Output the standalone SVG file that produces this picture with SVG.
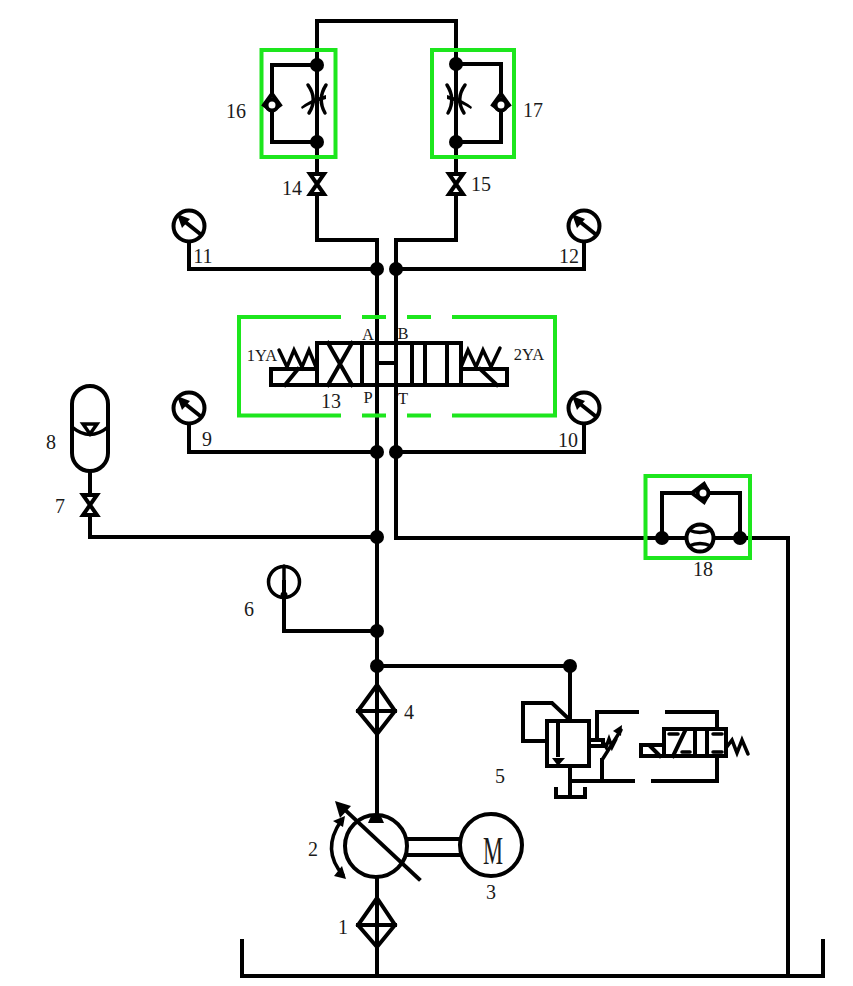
<svg xmlns="http://www.w3.org/2000/svg" width="853" height="986" viewBox="0 0 853 986">
<style>
.l{fill:none;stroke:#000;stroke-width:4;stroke-linejoin:miter;stroke-linecap:square}
.t{fill:none;stroke:#000;stroke-width:3.500;stroke-linecap:round}
.w{fill:#fff;stroke:#000;stroke-width:4}
.g{fill:none;stroke:#1de61d;stroke-width:4}
.d{fill:#000;stroke:none}
text{font-family:"Liberation Serif","Noto Sans CJK SC",serif;font-size:20px;fill:#1a1a1a;text-anchor:middle}
.s{font-size:16.500px}
</style>
<defs>
<g id="bow"><path class="w" d="M-7-10H7L-7 10H7Z"/></g>
<g id="gauge"><circle class="w" r="15.500"/><path class="l" stroke-width="4.500" d="M10 7-5-5"/><path class="d" d="M-12-12 1-7-7 2Z"/></g>
<g id="check"><path class="w" stroke-width="3" d="M-8 1 0-10 8 1 0 7Z"/><circle class="w" stroke-width="2.500" cy="1" r="5.500"/></g>
<g id="thr"><path class="t" d="M-9-14Q1 0-8 14M9-14Q0 0 8 14"/><path class="d" d="M-16 8Q-8 1 9-4L9 0Q-6 4-15 10Z"/></g>
</defs>
<g id="connectors">
<path class="l" d="M317 65V21H456V65M317 142V174M456 142V174M317 194V240H377M456 194V240H396"/>
<path class="l" d="M377 240V976M396 240V538H788V976"/>
<path class="l" d="M189 242V269H377M584 242V269H396M189 424V452H377M584 424V452H396"/>
<path class="l" d="M90 471V494M90 515V537H377M284 582V631H377M377 666H570V720"/>
</g>
<g id="junctions">
<circle class="d" cx="377" cy="269" r="7"/><circle class="d" cx="396" cy="269" r="7"/>
<circle class="d" cx="377" cy="452" r="7"/><circle class="d" cx="396" cy="452" r="7"/>
<circle class="d" cx="377" cy="537" r="7"/><circle class="d" cx="377" cy="631" r="7"/>
<circle class="d" cx="377" cy="666" r="7"/><circle class="d" cx="570" cy="666" r="7"/>
</g>
<g id="n16"><rect class="g" x="261.500" y="50" width="74" height="107"/>
<path class="l" d="M317 65H272V142H317M317 65V142"/><circle class="d" cx="317" cy="65" r="7"/><circle class="d" cx="317" cy="142" r="7"/>
<use href="#check" x="272" y="104"/><use href="#thr" x="317" y="99"/><text x="236" y="118">16</text></g>
<g id="n17"><rect class="g" x="432" y="50" width="82" height="107"/>
<path class="l" d="M456 64H501V142H456M456 64V142"/><circle class="d" cx="456" cy="64" r="7"/><circle class="d" cx="456" cy="142" r="7"/>
<use href="#check" x="501" y="104"/><use href="#thr" transform="translate(456 99) scale(-1 1)"/><text x="533" y="117">17</text></g>
<g id="n14"><use href="#bow" x="317" y="184"/><text x="292" y="195">14</text></g>
<g id="n15"><use href="#bow" x="456" y="184"/><text x="481" y="191">15</text></g>
<g id="n11"><use href="#gauge" x="189" y="226"/><text x="203" y="263">11</text></g>
<g id="n12"><use href="#gauge" x="584" y="226"/><text x="569" y="263">12</text></g>
<g id="n9"><use href="#gauge" x="189" y="408"/><text x="207" y="446">9</text></g>
<g id="n10"><use href="#gauge" x="584" y="408"/><text x="568" y="447">10</text></g>
<g id="n13"><path class="g" d="M341 317H239V415.500H341M362 317H386M407 317H431M452 317H555V415.500H452M362 415.500H386M407 415.500H431"/>
<path class="l" d="M317 343H461V385H317ZM328 343 352 385M352 343 328 385M362 343V385M377 363H396M412 343V385M425 343V385M447 343V385"/>
<path class="l" d="M317 369H271V385H317M285 385 298 369M461 369H507V385H461M480 369 497 385"/>
<path class="t" stroke-width="4" d="M279 350 287 367 294 350 302 367 309 350 316 367M461 367 468 350 476 367 483 350 491 367 500 348"/>
<text class="s" x="262" y="361">1YA</text><text class="s" x="529" y="360">2YA</text><text class="s" x="368" y="340">A</text><text class="s" x="403" y="339">B</text><text class="s" x="368" y="403">P</text><text class="s" x="403" y="404">T</text><text x="331" y="408">13</text></g>
<g id="n8"><rect class="w" x="72" y="386" width="36" height="85" rx="18"/><path class="t" d="M72 427Q90 442 108 427"/><path class="t" stroke-linejoin="miter" d="M83 424H97L90 434Z"/><text x="51" y="449">8</text></g>
<g id="n7"><use href="#bow" x="90" y="505"/><text x="60" y="513">7</text></g>
<g id="n6"><circle class="t" cx="284" cy="582" r="15.500" stroke-width="4"/><path class="t" d="M284 566V600"/><circle class="d" cx="284" cy="595" r="3.500"/><text x="249" y="616">6</text></g>
<g id="n4"><path class="w" d="M377 685 395 711 377 734 358 711Z"/><path class="l" d="M358 711H395M377 685V734"/><text x="409" y="719">4</text></g>
<g id="n1"><path class="w" d="M377 898 395 925 377 947 358 925Z"/><path class="l" d="M358 925H395M377 898V947"/><text x="343" y="934">1</text></g>
<g id="n2"><circle class="w" cx="376" cy="846" r="31"/><path class="d" d="M372 814H380L384 823H368Z"/><path class="l" d="M419 879 343 808"/><path class="d" d="M335 801 351 806 340 818Z"/>
<path class="t" stroke-width="4" d="M341 821Q321 850 343 875"/><path class="d" d="M345 816 343 827 333 821ZM346 879 334 876 342 866Z"/><text x="313" y="856">2</text></g>
<g id="n3"><path class="l" d="M407 839H463M407 855H463"/><circle class="w" cx="491" cy="845" r="31"/><text x="493" y="864" style="font-size:40px" textLength="20" lengthAdjust="spacingAndGlyphs">M</text><text x="491" y="899">3</text></g>
<g id="n18"><rect class="g" x="645.500" y="476" width="104.500" height="82"/>
<path class="l" d="M662 538V493H740V538"/><circle class="w" cx="700" cy="538" r="13.500"/><path class="t" stroke-width="2.500" d="M689 530Q700 535 711 530M689 546Q700 541 711 546"/>
<circle class="d" cx="662" cy="538" r="7"/><circle class="d" cx="740" cy="538" r="7"/>
<path class="w" stroke-width="3" d="M692 493 704 484 709 493 704 502Z"/><circle class="w" stroke-width="2.500" cx="703" cy="493" r="5.500"/><text x="703" y="576">18</text></g>
<g id="n5"><path class="l" d="M570 720 552 703H523V741H547"/><rect class="w" x="547" y="721" width="42" height="45"/><path class="l" d="M558 721V755"/><path class="d" d="M552 758H565L558 766Z"/>
<path class="l" d="M570 766V797M556 789V797H585V789M570 781H633M597 740V712H637M667 712H717V729M653 781H717V757M602 781V760"/>
<path class="l" d="M589 740H603V746H589Z"/><path class="t" d="M602 740 606 747 609 739 612 747 616 739M602 760 621 730"/><path class="d" d="M622 725 621 736 613 731Z"/>
<rect class="w" x="664" y="729" width="62" height="27"/><path class="l" d="M695 729V756M707 729V756M664 745H641V756H664M650 746 660 756M673 756 685 731"/>
<path class="t" d="M669 734H678M682 752H690M713 734H722M713 752H722"/><path class="t" d="M726 748 732 740 737 753 742 740 748 754"/><text x="500" y="783">5</text></g>
<g id="tank"><path class="l" d="M242 941V976H823V941"/></g>
</svg>
